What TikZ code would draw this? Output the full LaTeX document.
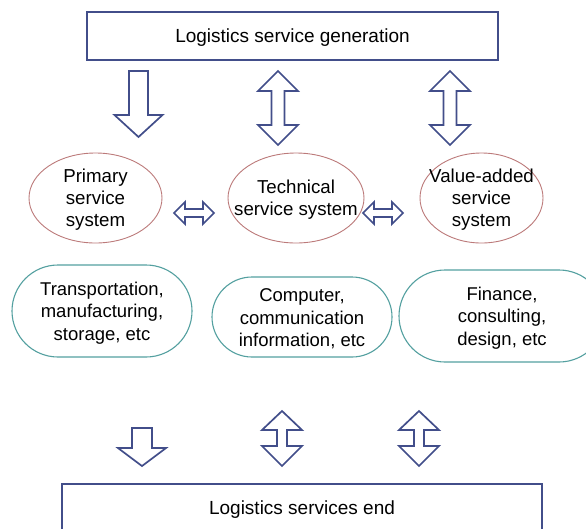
\documentclass[tikz,border=0pt]{standalone}
\usepackage{fontspec}
\setmainfont{Liberation Sans}
\usetikzlibrary{shapes.geometric}
\definecolor{navy}{RGB}{66,78,138}
\definecolor{rosy}{RGB}{188,122,122}
\definecolor{teal2}{RGB}{84,160,160}
\tikzset{
  framebox/.style={draw=navy, line width=2.2pt, minimum height=48pt, inner sep=0pt},
  boxtext/.style={inner sep=0pt, yshift=-1.5pt, font=\fontsize{19}{22}\selectfont},
  sysellipse/.style={ellipse, draw=rosy, line width=0.9pt, inner sep=0pt, minimum height=90pt},
  systext/.style={align=center, inner sep=0pt, yshift=-2pt, font=\fontsize{18.7}{22}\selectfont},
  field/.style={draw=teal2, line width=1.1pt, inner sep=0pt},
  fieldtext/.style={align=center, inner sep=0pt, yshift=-2pt, font=\fontsize{18.5}{22.5}\selectfont},
  blockarrow/.style={draw=navy, line width=1.7pt, fill=white, line join=miter},
}
% block arrow pointing down, anchored at the middle of its top edge
\newcommand{\blockdown}[6]{% x, y, shaft half, head half, shoulder, tip
  \draw[blockarrow, shift={(#1,#2)}] (-#3,0) -- (#3,0) -- (#3,#5) -- (#4,#5) -- (0,#6)
    -- (-#4,#5) -- (-#3,#5) -- cycle;}
% vertical double block arrow, anchored at its upper tip
\newcommand{\blockboth}[7]{% x, y, shaft half, head half, upper shoulder, lower shoulder, lower tip
  \draw[blockarrow, shift={(#1,#2)}] (0,0) -- (#4,#5) -- (#3,#5) -- (#3,#6) -- (#4,#6) -- (0,#7)
    -- (-#4,#6) -- (-#3,#6) -- (-#3,#5) -- (-#4,#5) -- cycle;}
% horizontal double block arrow, anchored at its left tip
\newcommand{\blockside}[2]{%
  \draw[blockarrow, shift={(#1,#2)}] (0,0) -- (11,-11) -- (11,-4) -- (29,-4) -- (29,-11)
    -- (40,0) -- (29,11) -- (29,4) -- (11,4) -- (11,11) -- cycle;}
\begin{document}
\begin{tikzpicture}[x=1pt, y=-1pt]
  \path[use as bounding box, fill=white] (0,0) rectangle (586,528);

  % start and end of the service chain
  \node[framebox, minimum width=411pt] (gen) at (292.5,36) {};
  \node[boxtext] (gentxt) at (gen.center) {Logistics service generation};
  \node[framebox, minimum width=480pt] (fin) at (302,508) {};
  \node[boxtext] (fintxt) at (fin.center) {Logistics services end};

  % the three service systems: outline first, then its label on top
  \node[sysellipse, minimum width=133pt] (prim) at (95.5,198) {};
  \node[systext] (primtxt) at (prim.center) {Primary\\service\\system};
  \node[sysellipse, minimum width=136pt] (tech) at (296,198) {};
  \node[systext] (techtxt) at (tech.center) {Technical\\service system};
  \node[sysellipse, minimum width=123pt] (val) at (481.5,198) {};
  \node[systext] (valtxt) at (val.center) {Value-added\\service\\system};

  % fields belonging to each system
  \node[field, minimum width=180pt, minimum height=92pt, rounded corners=46pt] (f1) at (102,311) {};
  \node[fieldtext] (f1txt) at (f1.center) {Transportation,\\manufacturing,\\storage, etc};
  \node[field, minimum width=180pt, minimum height=80pt, rounded corners=40pt] (f2) at (302,317) {};
  \node[fieldtext] (f2txt) at (f2.center) {Computer,\\communication\\information, etc};
  \node[field, minimum width=206pt, minimum height=92pt, rounded corners=46pt] (f3) at (502,316) {};
  \node[fieldtext] (f3txt) at (f3.center) {Finance,\\consulting,\\design, etc};

  % block arrows below the generation box
  \blockdown{138.5}{71}{9.5}{24}{44}{66}
  \blockboth{278}{71}{6.5}{20}{20}{54}{74}
  \blockboth{450}{71}{6.5}{20}{20}{54}{74}

  % links between the systems
  \blockside{174}{213}
  \blockside{363}{213}

  % block arrows above the end box
  \blockdown{142}{428}{10}{24}{20}{38}
  \blockboth{282}{411}{5}{20}{19}{35}{55}
  \blockboth{419}{411}{5}{20}{19}{35}{55}
\end{tikzpicture}
\end{document}
